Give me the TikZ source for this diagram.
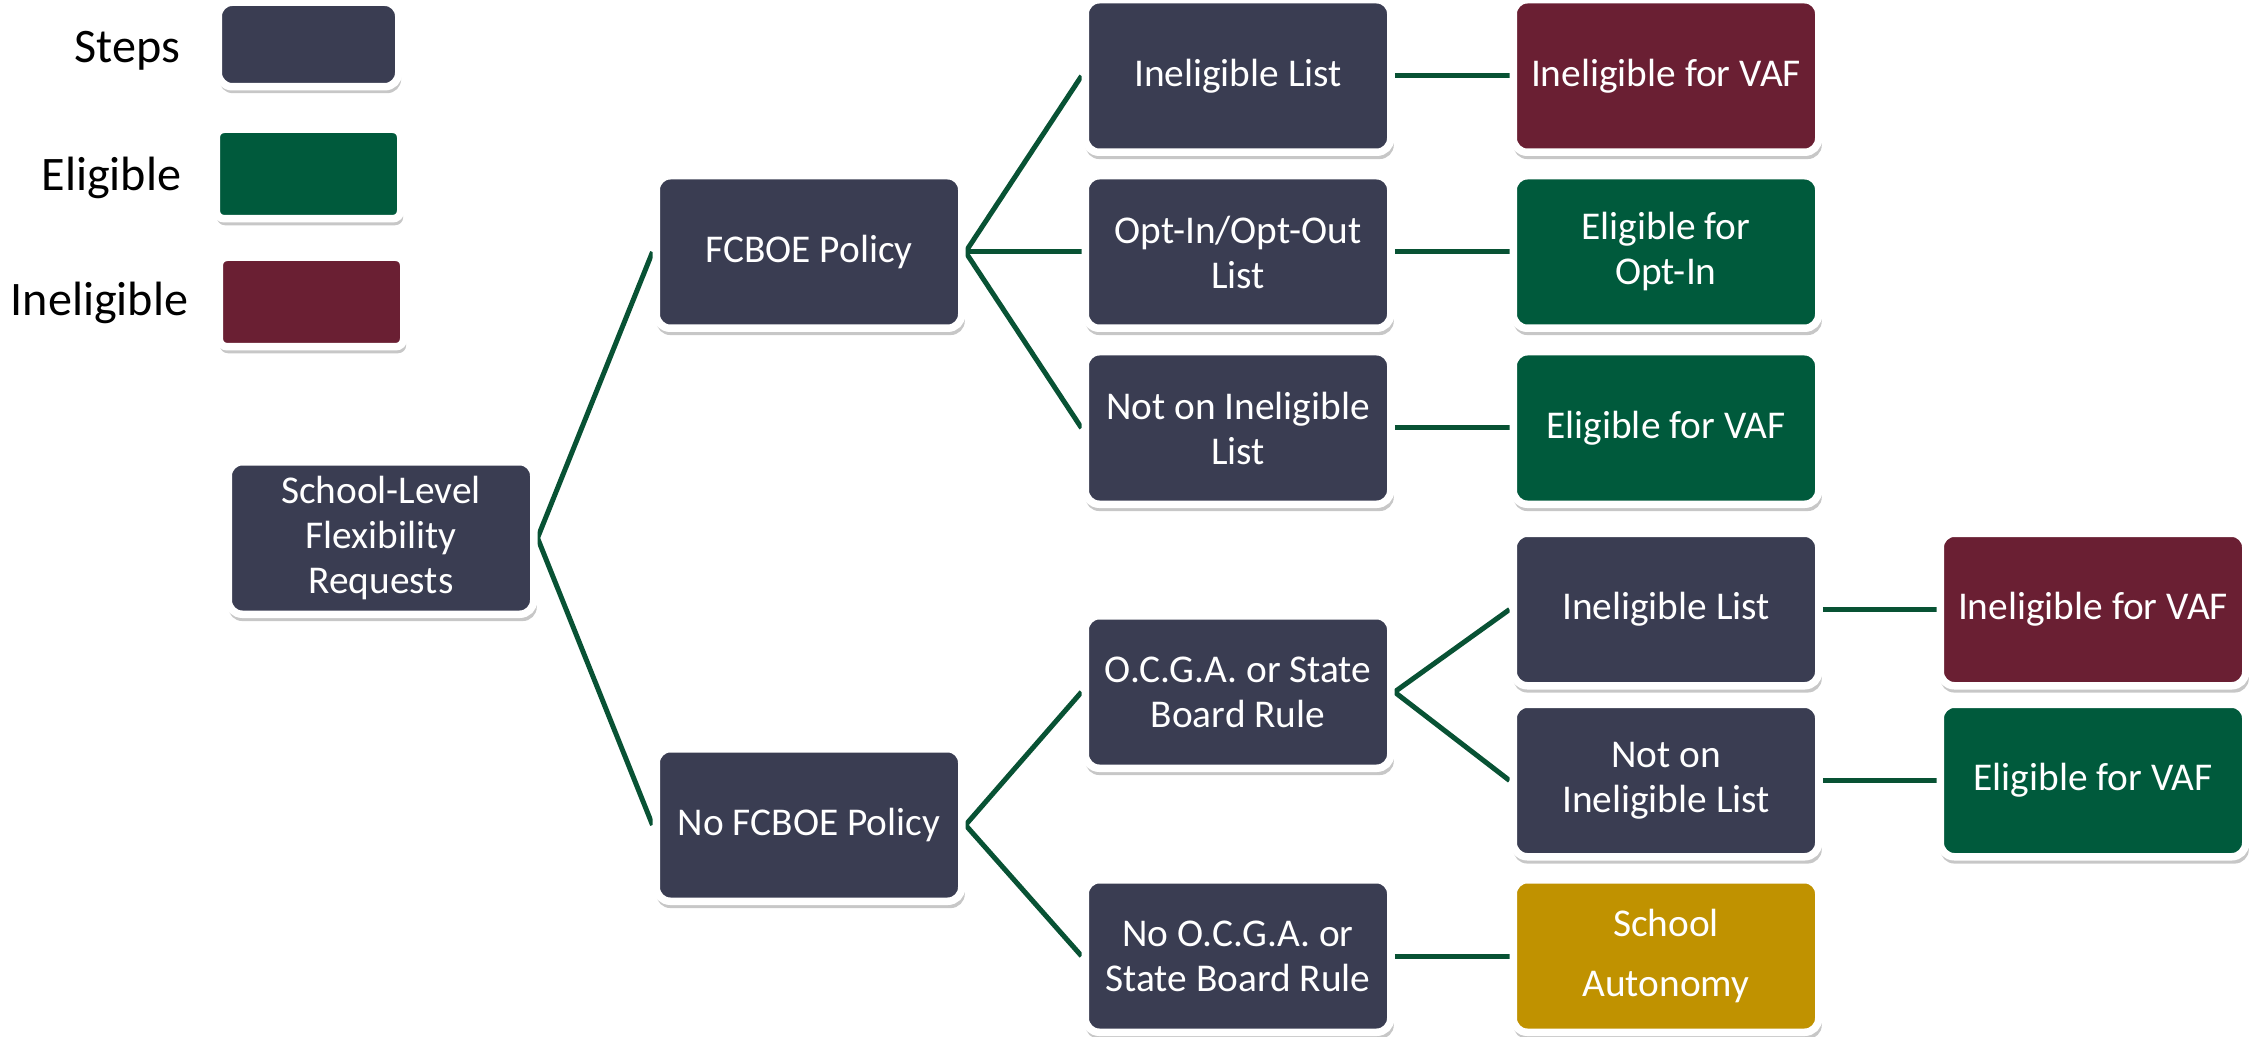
\documentclass[tikz,border=0pt]{standalone}
\usepackage{fontspec}
\setmainfont{Carlito}
\usetikzlibrary{shadows,backgrounds}
\definecolor{stepcol}{RGB}{58,61,82}
\definecolor{eligcol}{RGB}{0,90,60}
\definecolor{ineligcol}{RGB}{106,31,51}
\definecolor{autocol}{RGB}{192,146,0}
\definecolor{linkcol}{RGB}{8,82,52}
\begin{document}
\begin{tikzpicture}[
    box/.style={rectangle, rounded corners=0.14cm, draw=white, line width=0.075cm,
      minimum width=3.055cm, minimum height=1.525cm, inner sep=0pt, align=center,
      text=white, font=\fontsize{11.2}{12.8}\selectfont,
      drop shadow={shadow xshift=0.015cm, shadow yshift=-0.06cm, shadow scale=1.01,
        opacity=0.22, fill=black}},
    stepbox/.style={box, fill=stepcol},
    eligbox/.style={box, fill=eligcol},
    ineligbox/.style={box, fill=ineligcol},
    autobox/.style={box, fill=autocol},
    keybox/.style={minimum width=1.845cm, minimum height=0.895cm},
    keytext/.style={anchor=base east, inner sep=0pt, font=\fontsize{13.7}{16}\selectfont},
    link/.style={draw=linkcol, line width=0.05cm}]
  \useasboundingbox (0,0) rectangle (22.52,-10.37);
  % legend
  \node[stepbox, keybox, minimum width=1.805cm, minimum height=0.845cm] (keystep) at (3.085,-0.445) {};
  \node[eligbox, keybox, rounded corners=0.08cm] (keyelig) at (3.085,-1.74) {};
  \node[ineligbox, keybox, rounded corners=0.08cm] (keyinelig) at (3.115,-3.02) {};
  \node[keytext] (lblstep) at (1.81,-0.63) {Steps};
  \node[keytext] (lblelig) at (1.82,-1.91) {Eligible};
  \node[keytext] (lblinelig) at (1.89,-3.16) {Ineligible};
  % tree
  \node[stepbox] (request) at (3.81,-5.38) {School-Level\\Flexibility\\Requests};
  \node[stepbox] (policy) at (8.09,-2.52) {FCBOE Policy};
  \node[stepbox] (nopolicy) at (8.09,-8.25) {No FCBOE Policy};
  \node[stepbox] (listA) at (12.38,-0.76) {Ineligible List};
  \node[stepbox] (optlist) at (12.38,-2.52) {Opt-In/Opt-Out\\List};
  \node[stepbox] (notlistA) at (12.38,-4.28) {Not on Ineligible\\List};
  \node[stepbox] (rule) at (12.38,-6.92) {O.C.G.A. or State\\Board Rule};
  \node[stepbox] (norule) at (12.38,-9.56) {No O.C.G.A. or\\State Board Rule};
  \node[ineligbox] (resA) at (16.66,-0.76) {Ineligible for VAF};
  \node[eligbox] (resopt) at (16.66,-2.52) {Eligible for\\Opt-In};
  \node[eligbox] (resB) at (16.66,-4.28) {Eligible for VAF};
  \node[stepbox] (listB) at (16.66,-6.095) {Ineligible List};
  \node[stepbox] (notlistB) at (16.66,-7.805) {Not on\\Ineligible List};
  \node[autobox] (autonomy) at (16.66,-9.56) {School\\[4.2pt]Autonomy};
  \node[ineligbox] (resC) at (20.93,-6.095) {Ineligible for VAF};
  \node[eligbox] (resD) at (20.93,-7.805) {Eligible for VAF};
  \begin{scope}[on background layer]
    \path[link] (request.east) -- (policy.west)
      (request.east) -- (nopolicy.west);
    \foreach \n in {listA,optlist,notlistA}
      \path[link] (policy.east) -- (\n.west);
    \foreach \n in {rule,norule}
      \path[link] (nopolicy.east) -- (\n.west);
    \foreach \n in {listB,notlistB}
      \path[link] (rule.east) -- (\n.west);
    \foreach \a/\b in {listA/resA,optlist/resopt,notlistA/resB,norule/autonomy,listB/resC,notlistB/resD}
      \path[link] (\a.east) -- (\b.west);
  \end{scope}
\end{tikzpicture}
\end{document}
